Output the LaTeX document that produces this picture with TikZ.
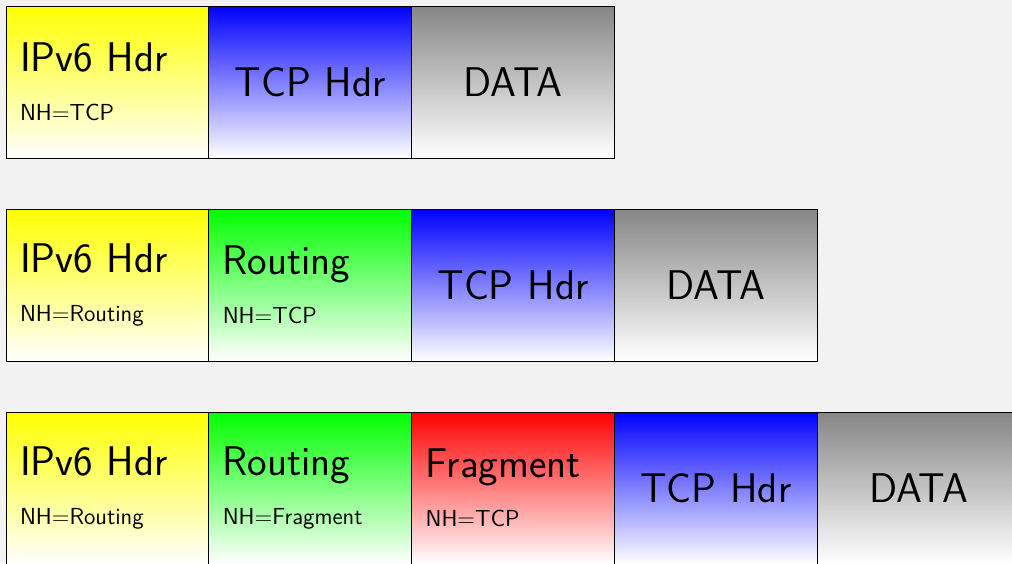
\documentclass[tikz,border=0pt]{standalone}
\usepackage{fontspec}
\usetikzlibrary{positioning}
\definecolor{bggray}{HTML}{F2F2F2}
\definecolor{datagray}{HTML}{868686}
\newcommand{\nhline}[1]{{\fontsize{11.6pt}{14pt}\selectfont NH=#1}}
\tikzstyle{hdr} = [rectangle, draw=black, outer sep=0pt, minimum width=101.4pt, minimum height=76pt, text width=87.4pt, inner xsep=7pt, align=left, font=\sffamily\huge, bottom color=white]
\tikzstyle{ipv6} = [hdr, top color=yellow]
\tikzstyle{routing} = [hdr, top color=green]
\tikzstyle{frag} = [hdr, top color=red]
\tikzstyle{tcp} = [hdr, top color=blue, align=center]
\tikzstyle{data} = [hdr, top color=datagray, align=center]

\begin{document}
\begin{tikzpicture}[node distance=0pt]
    \fill[bggray] (0,0) rectangle (506pt,-281.5pt);
    \useasboundingbox (0,0) rectangle (506pt,-281.5pt);
    \node (ipa) [ipv6, anchor=north west] at (3pt,-3pt) {IPv6 Hdr\\[-0.5pt]\nhline{TCP}};
    \node (tcpa) [tcp, right=of ipa] {TCP Hdr};
    \node (dataa) [data, right=of tcpa] {DATA};
    \node (ipb) [ipv6, below=25.5pt of ipa] {IPv6 Hdr\\[-0.5pt]\nhline{Routing}};
    \node (rtb) [routing, right=of ipb] {Routing\\[-0.5pt]\nhline{TCP}};
    \node (tcpb) [tcp, right=of rtb] {TCP Hdr};
    \node (datab) [data, right=of tcpb] {DATA};
    \node (ipc) [ipv6, below=25.5pt of ipb] {IPv6 Hdr\\[-0.5pt]\nhline{Routing}};
    \node (rtc) [routing, right=of ipc] {Routing\\[-0.5pt]\nhline{Fragment}};
    \node (fragc) [frag, right=of rtc] {Fragment\\[-0.5pt]\nhline{TCP}};
    \node (tcpc) [tcp, right=of fragc] {TCP Hdr};
    \node (datac) [data, right=of tcpc] {DATA};
\end{tikzpicture}
\end{document}
